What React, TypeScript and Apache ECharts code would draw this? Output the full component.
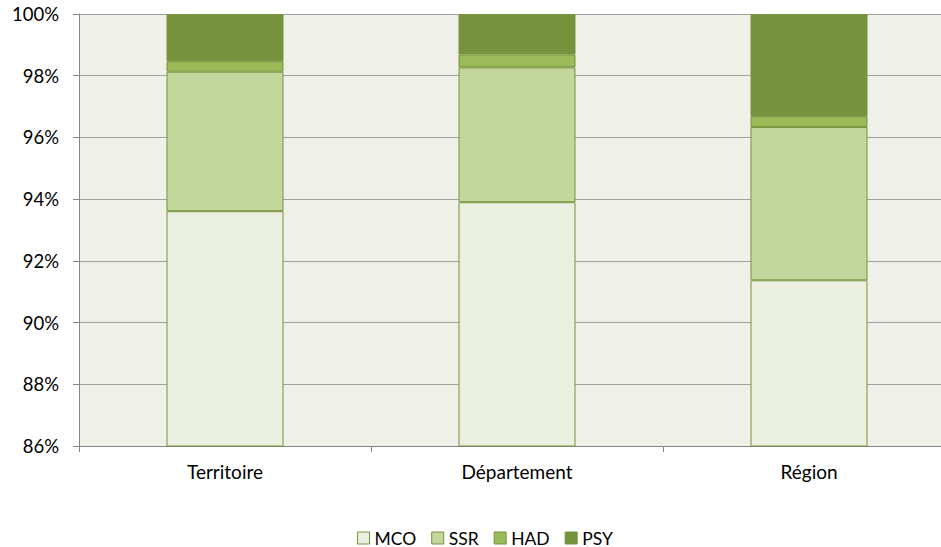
import React, { useEffect, useRef } from "react";
import * as echarts from "echarts";

const categories = ["Territoire", "Département", "Région"];
const mco = [93.61, 93.9, 91.37];
const ssr = [4.52, 4.37, 4.97];
const had = [0.34, 0.42, 0.35];
const psy = [1.53, 1.31, 3.31];
const seriesNames = ["MCO", "SSR", "HAD", "PSY"];
const colors = ["#EBEFDF", "#C3D69B", "#9BBB59", "#76923C"];

export default function App() {
  const ref = useRef<HTMLDivElement>(null);
  useEffect(() => {
    if (!ref.current) return;
    const chart = echarts.init(ref.current, null, { renderer: "svg" });
    const values = [mco, ssr, had, psy];
    const font = "Lato, 'Noto Sans', sans-serif";
    chart.setOption({
      animation: false,
      textStyle: { fontFamily: font },
      grid: {
        left: 79,
        right: 0,
        top: 14,
        bottom: 101,
        show: true,
        backgroundColor: "#EFF1E9",
        borderWidth: 0,
      },
      legend: {
        left: 357,
        top: 529,
        icon: "rect",
        itemWidth: 12,
        itemHeight: 12,
        itemGap: 15,
        padding: 0,
        data: seriesNames.map((n, i) => ({
          name: n,
          itemStyle: { color: colors[i], borderColor: "#77933C", borderWidth: 1 },
        })),
        textStyle: { fontSize: 17.5, lineHeight: 14, color: "#000", fontFamily: font },
      },
      xAxis: {
        type: "category",
        data: categories,
        axisLine: { lineStyle: { color: "#868686", width: 1 } },
        axisTick: { show: true, length: 6, alignWithLabel: false, lineStyle: { color: "#868686" } },
        axisLabel: { color: "#000", fontSize: 19, margin: 16, fontFamily: font },
        splitLine: { show: false },
      },
      yAxis: {
        type: "value",
        min: 86,
        max: 100,
        interval: 2,
        axisLine: { show: true, lineStyle: { color: "#868686", width: 1 } },
        axisTick: { show: true, length: 6, lineStyle: { color: "#868686" } },
        axisLabel: { color: "#000", fontSize: 18.5, margin: 20, formatter: "{value}%", fontFamily: font },
        splitLine: { show: true, lineStyle: { color: "#A0A0A0", width: 1 } },
      },
      series: seriesNames.map((n, i) => ({
        name: n,
        type: "bar",
        stack: "total",
        data: values[i],
        barWidth: 117,
        itemStyle: { color: colors[i], borderColor: "#77933C", borderWidth: 1 },
      })),
    });
    return () => chart.dispose();
  }, []);
  return (
    <div style={{ position: "absolute", left: 0, top: 0, width: 941, height: 547, overflow: "hidden", background: "#fff" }}>
      <div ref={ref} style={{ width: 955, height: 547 }} />
    </div>
  );
}
